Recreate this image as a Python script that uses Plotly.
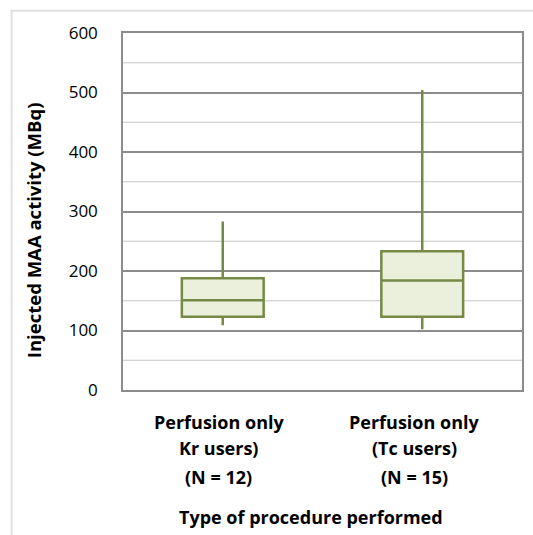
import plotly.graph_objects as go

# Summary statistics of injected MAA activity (MBq) per group
categories = ["Perfusion only<br>Kr users)<br>(N = 12)",
              "Perfusion only<br>(Tc users)<br>(N = 15)"]
minimum = [109, 102]
q1 = [123, 123]
median = [151, 184]
q3 = [188, 233]
maximum = [283, 504]

y_title = "Injected MAA activity (MBq)"
x_title = "Type of procedure performed"
y_ticks = [0, 100, 200, 300, 400, 500, 600]

FONT = "Open Sans"
LINE_GREEN = "#778a45"
FILL_GREEN = "#ebf0dd"

fig = go.Figure()
fig.add_trace(go.Box(
    x=categories,
    q1=q1, median=median, q3=q3,
    lowerfence=minimum, upperfence=maximum,
    boxpoints=False,
    whiskerwidth=0,
    width=0.41,
    line=dict(color=LINE_GREEN, width=2.5),
    fillcolor=FILL_GREEN,
    hoverinfo="skip",
    showlegend=False,
))

# minor (50) gridlines drawn as shapes beneath the major ones
for v in range(50, 600, 100):
    fig.add_shape(type="line", xref="paper", yref="y", x0=0, x1=1, y0=v, y1=v,
                  line=dict(color="#c4c4c4", width=1.2), layer="below")

annotations = []
# category labels, one annotation per line
line_y = [-0.089, -0.163, -0.243]
label_shift = [-4, -8]
for i, cat in enumerate(categories):
    for k, part in enumerate(cat.split("<br>")):
        annotations.append(dict(
            x=cat, y=line_y[k], xref="x", yref="paper", text=part,
            showarrow=False, xanchor="center", yanchor="middle",
            xshift=label_shift[i],
            font=dict(family=FONT, size=18, color="#000000", weight="bold"),
        ))
# axis titles
annotations.append(dict(
    x=0.47, y=-0.355, xref="paper", yref="paper", text=x_title,
    showarrow=False, xanchor="center", yanchor="middle",
    font=dict(family=FONT, size=18, color="#000000", weight="bold"),
))
annotations.append(dict(
    x=-0.2244, y=0.449, xref="paper", yref="paper", text=y_title,
    textangle=-90, showarrow=False, xanchor="center", yanchor="middle",
    font=dict(family=FONT, size=18.5, color="#000000", weight="bold"),
))

fig.update_layout(
    width=533, height=535,
    margin=dict(l=123, r=9, t=33, b=145),
    paper_bgcolor="white", plot_bgcolor="white",
    font=dict(family=FONT, color="#000000"),
    annotations=annotations,
    shapes=list(fig.layout.shapes) + [dict(
        type="rect", xref="paper", yref="paper",
        x0=-0.279, x1=1.2, y0=-0.6, y1=1.0625,
        line=dict(color="#e0e0e0", width=2), layer="below",
    )],
    xaxis=dict(
        range=[-0.5, 1.5], showticklabels=False, showgrid=False,
        showline=True, mirror=True, linecolor="#8c8c8c", linewidth=1.5,
        zeroline=False, fixedrange=True,
    ),
    yaxis=dict(
        range=[0, 600], tickvals=y_ticks,
        tickfont=dict(family=FONT, size=17, color="#000000"),
        ticks="", ticklabelstandoff=20,
        showgrid=True, gridcolor="#8c8c8c", gridwidth=1.5,
        showline=True, mirror=True, linecolor="#8c8c8c", linewidth=1.5,
        zeroline=False,
    ),
)

fig.write_html("out.html")
